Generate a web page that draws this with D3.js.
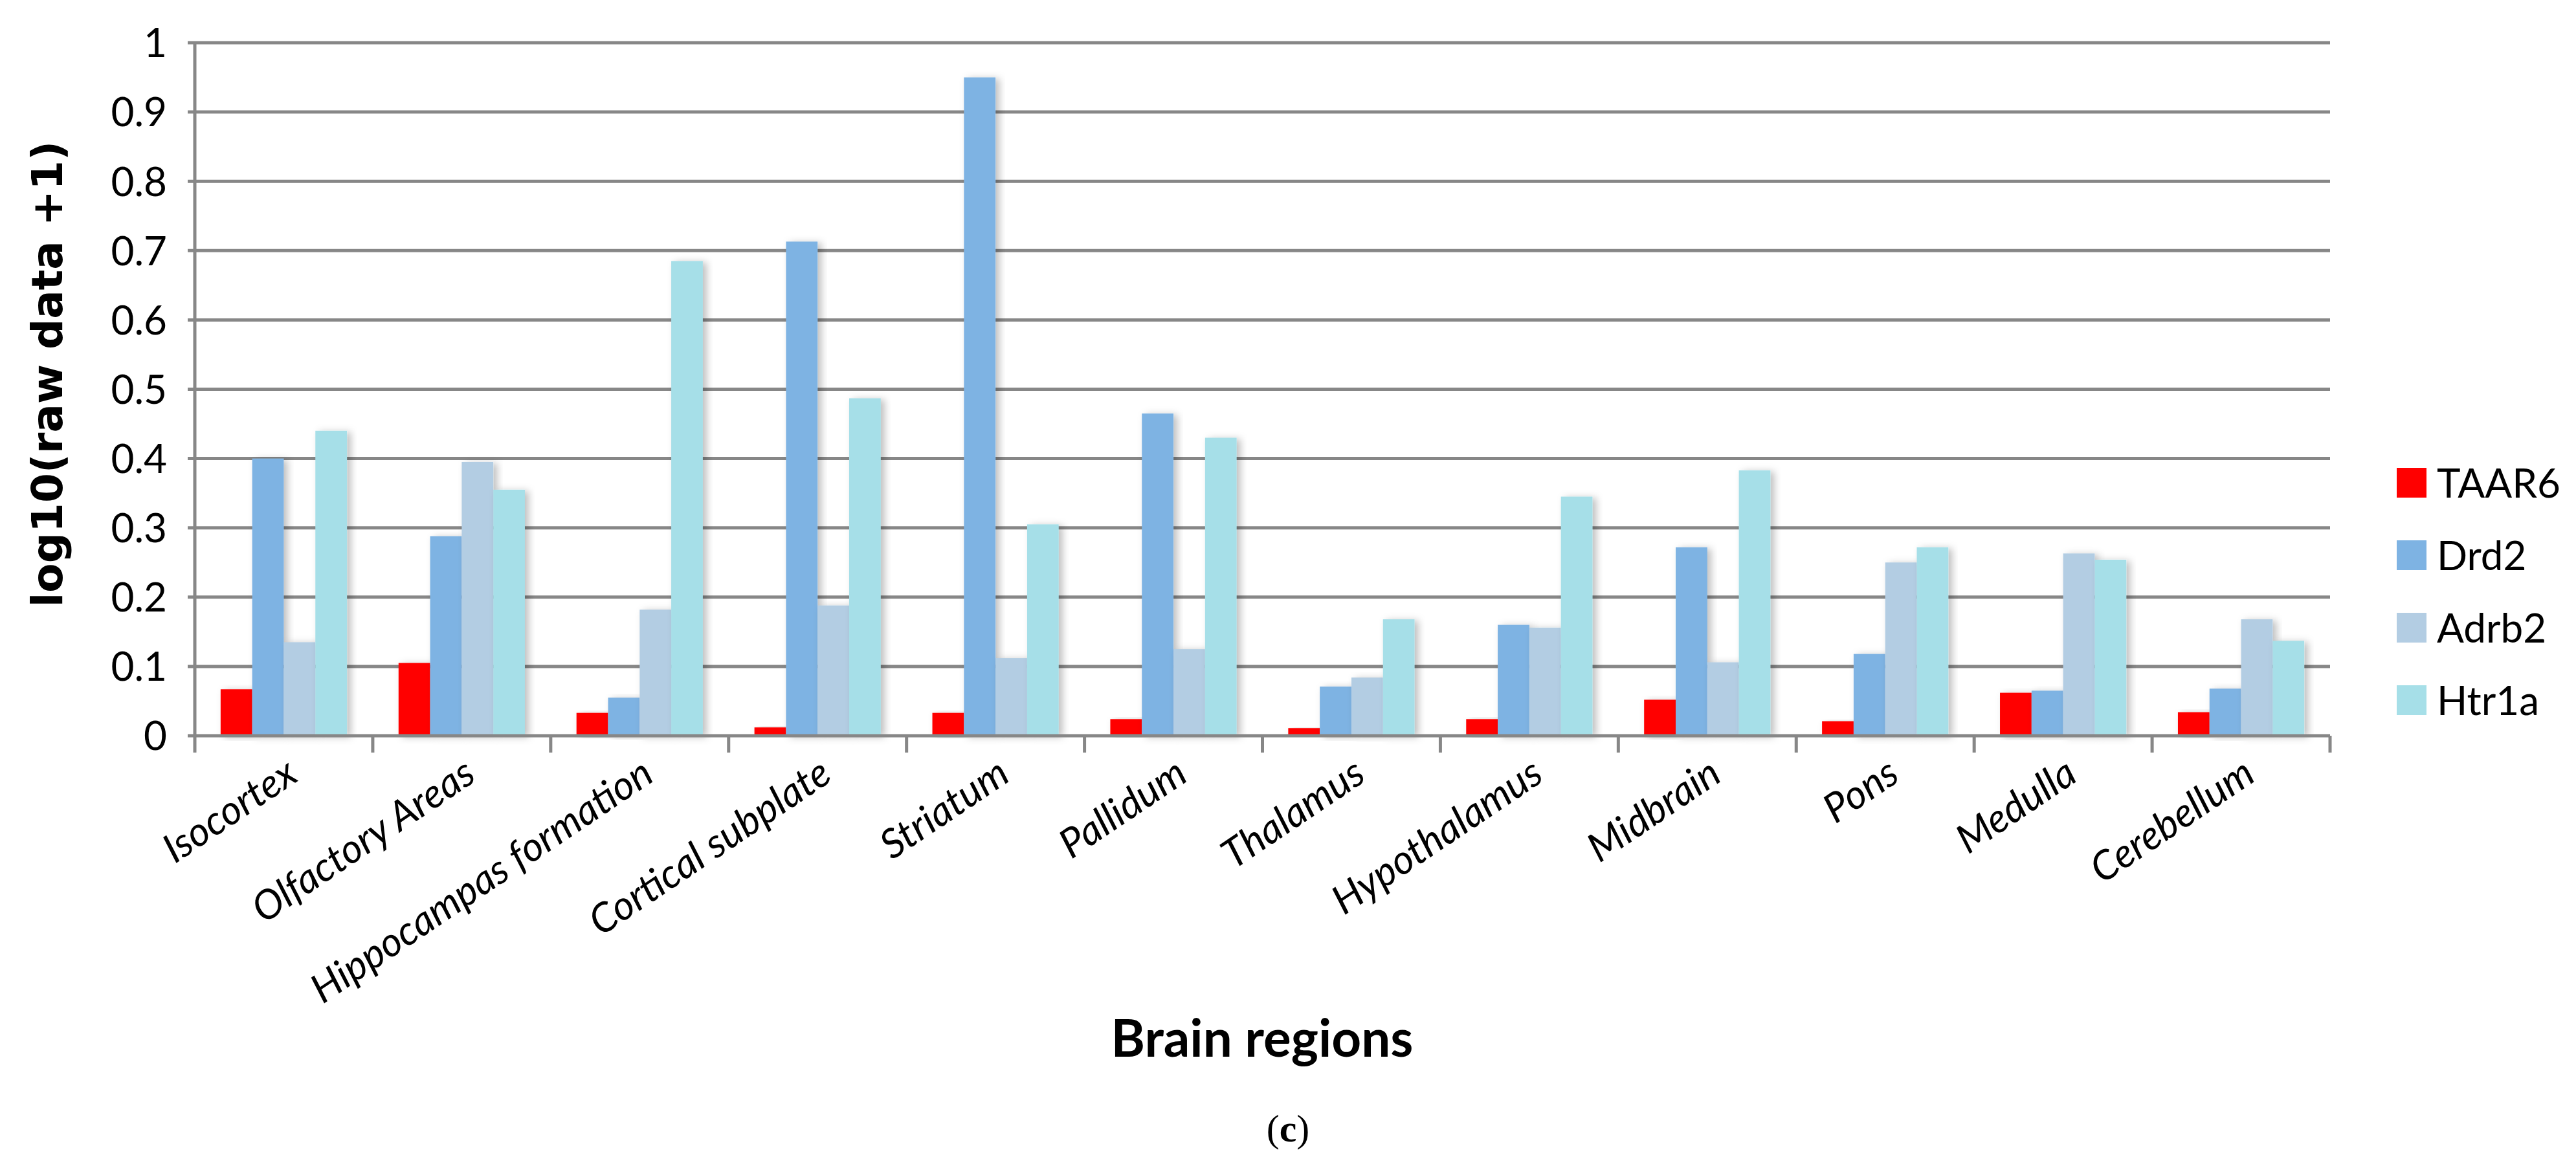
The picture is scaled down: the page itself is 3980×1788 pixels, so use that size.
<!DOCTYPE html>
<html>
<head>
<meta charset="utf-8">
<script src="https://cdn.jsdelivr.net/npm/d3@7"></script>
<style>
  body { margin: 0; background: #fff; }
  text { font-family: Lato, "Open Sans", sans-serif; fill: #000; }
</style>
</head>
<body>
<svg id="chart" width="3980" height="1788"></svg>
<script>
const regions = ["Isocortex", "Olfactory Areas", "Hippocampas formation", "Cortical subplate",
  "Striatum", "Pallidum", "Thalamus", "Hypothalamus", "Midbrain", "Pons", "Medulla", "Cerebellum"];
const genes = ["TAAR6", "Drd2", "Adrb2", "Htr1a"];
const colors = ["#ff0000", "#7eb3e3", "#b3cde3", "#a6dfe8"];

const taar6 = [0.067, 0.105, 0.033, 0.012, 0.033, 0.024, 0.011, 0.024, 0.052, 0.021, 0.062, 0.034];
const drd2  = [0.40, 0.288, 0.055, 0.713, 0.95, 0.465, 0.071, 0.16, 0.272, 0.118, 0.065, 0.068];
const adrb2 = [0.135, 0.395, 0.182, 0.188, 0.112, 0.125, 0.084, 0.156, 0.106, 0.25, 0.263, 0.168];
const htr1a = [0.44, 0.355, 0.685, 0.487, 0.305, 0.43, 0.168, 0.345, 0.383, 0.272, 0.254, 0.137];
const series = [taar6, drd2, adrb2, htr1a];
const yTicks = [0, 0.1, 0.2, 0.3, 0.4, 0.5, 0.6, 0.7, 0.8, 0.9, 1];

const mLeft = 301, mRight = 3600, mTop = 66, mBottom = 1137;
const svg = d3.select("#chart");

const defs = svg.append("defs");
const f = defs.append("filter").attr("id", "shadow").attr("x", "-30%").attr("y", "-10%").attr("width", "160%").attr("height", "120%");
f.append("feDropShadow").attr("dx", 6).attr("dy", 2).attr("stdDeviation", 6).attr("flood-color", "#000").attr("flood-opacity", 0.25);

const x = d3.scaleBand().domain(regions).range([mLeft, mRight]).paddingInner(0.29).paddingOuter(0.145);
const xs = d3.scaleBand().domain(genes).range([0, x.bandwidth()]);
const y = d3.scaleLinear().domain([0, 1]).range([mBottom, mTop]);

// gridlines
svg.append("g").selectAll("line").data(yTicks.slice(1)).join("line")
  .attr("x1", mLeft - 11).attr("x2", mRight).attr("y1", d => y(d)).attr("y2", d => y(d))
  .attr("stroke", "#878787").attr("stroke-width", 5);

// bars
const groups = svg.append("g").selectAll("g").data(regions).join("g")
  .attr("transform", d => `translate(${x(d)},0)`);
groups.selectAll("rect").data((d, i) => genes.map((g, j) => ({ g, v: series[j][i], c: colors[j] }))).join("rect")
  .attr("x", d => xs(d.g)).attr("width", xs.bandwidth())
  .attr("y", d => y(d.v)).attr("height", d => mBottom - y(d.v))
  .attr("fill", d => d.c).attr("filter", "url(#shadow)");

// axes lines
svg.append("line").attr("x1", mLeft).attr("x2", mLeft).attr("y1", mTop).attr("y2", mBottom)
  .attr("stroke", "#878787").attr("stroke-width", 5);
svg.append("line").attr("x1", mLeft - 11).attr("x2", mRight).attr("y1", mBottom).attr("y2", mBottom)
  .attr("stroke", "#878787").attr("stroke-width", 5);
const step = (mRight - mLeft) / regions.length;
svg.append("g").selectAll("line").data(d3.range(regions.length + 1)).join("line")
  .attr("x1", i => mLeft + i * step).attr("x2", i => mLeft + i * step)
  .attr("y1", mBottom).attr("y2", mBottom + 26)
  .attr("stroke", "#878787").attr("stroke-width", 5);

// y tick labels
svg.append("g").selectAll("text").data(yTicks).join("text")
  .attr("x", 258).attr("y", d => y(d)).attr("dy", "0.36em")
  .attr("text-anchor", "end").attr("font-size", 62)
  .text(d => d3.format("~g")(d));

// x labels
svg.append("g").selectAll("text").data(regions).join("text")
  .attr("transform", d => `translate(${x(d) + x.bandwidth() / 2 + 25},1205) rotate(-34)`)
  .attr("text-anchor", "end").attr("font-size", 62).attr("font-style", "italic")
  .text(d => d);

// legend
const lg = svg.append("g").selectAll("g").data(genes).join("g")
  .attr("transform", (d, i) => `translate(3703,${747 + i * 112})`);
lg.append("rect").attr("x", 0).attr("y", -24).attr("width", 46).attr("height", 46).attr("fill", (d, i) => colors[i]);
lg.append("text").attr("x", 62).attr("dy", "0.36em").attr("font-size", 62).text(d => d);

// titles
svg.append("text").attr("transform", "translate(72,578) rotate(-90)")
  .attr("text-anchor", "middle").attr("dy", "0.36em")
  .style("font-family", "'DejaVu Sans', sans-serif").attr("font-weight", "bold").attr("font-size", 66)
  .text("log10(raw data +1)");
svg.append("text").attr("x", 1950).attr("y", 1604).attr("dy", "0.36em")
  .attr("text-anchor", "middle").attr("font-weight", "bold").attr("font-size", 80)
  .text("Brain regions");
const cap = svg.append("text").attr("x", 1990).attr("y", 1742).attr("dy", "0.36em")
  .attr("text-anchor", "middle").attr("font-size", 60).style("font-family", "'Liberation Serif', serif");
cap.append("tspan").text("(");
cap.append("tspan").attr("font-weight", "bold").text("c");
cap.append("tspan").text(")");
</script>
</body>
</html>
